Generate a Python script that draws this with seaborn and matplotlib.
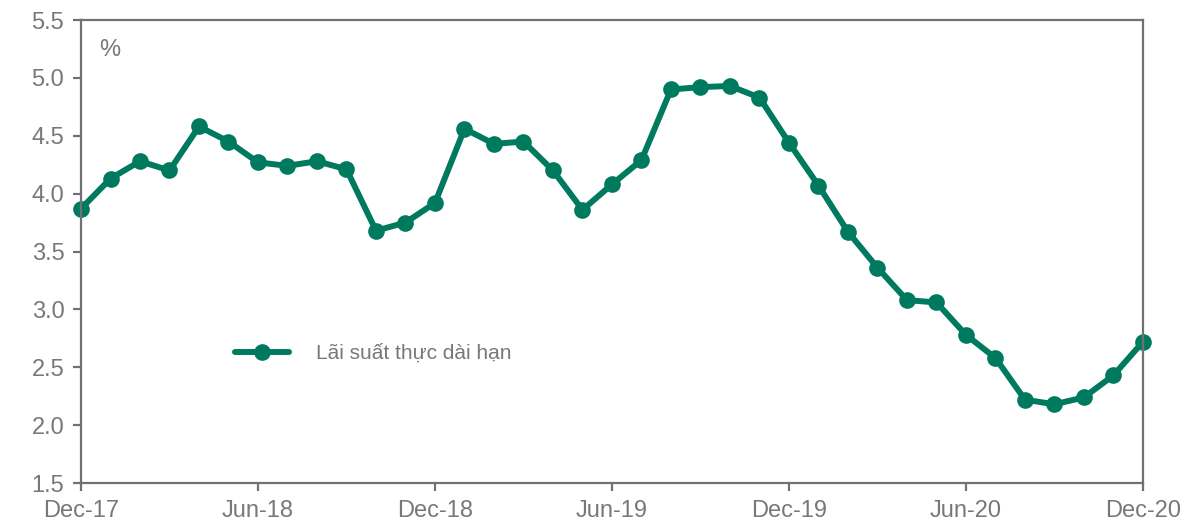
import matplotlib
matplotlib.use("Agg")
import matplotlib.pyplot as plt
import seaborn as sns
import pandas as pd

months = ["Dec-17","Jan-18","Feb-18","Mar-18","Apr-18","May-18","Jun-18","Jul-18","Aug-18","Sep-18","Oct-18","Nov-18",
          "Dec-18","Jan-19","Feb-19","Mar-19","Apr-19","May-19","Jun-19","Jul-19","Aug-19","Sep-19","Oct-19","Nov-19",
          "Dec-19","Jan-20","Feb-20","Mar-20","Apr-20","May-20","Jun-20","Jul-20","Aug-20","Sep-20","Oct-20","Nov-20","Dec-20"]
values = [3.87, 4.13, 4.28, 4.20, 4.58, 4.45, 4.27, 4.24, 4.28, 4.21, 3.68, 3.75,
          3.92, 4.56, 4.43, 4.45, 4.20, 3.86, 4.08, 4.29, 4.90, 4.92, 4.93, 4.83,
          4.44, 4.07, 3.67, 3.36, 3.08, 3.06, 2.78, 2.58, 2.22, 2.18, 2.24, 2.43, 2.72]
tick_labels = ["Dec-17","Jun-18","Dec-18","Jun-19","Dec-19","Jun-20","Dec-20"]
series_name = "Lãi suất thực dài hạn"

sns.set_theme(style="white")
plt.rcParams['font.family'] = ['Liberation Sans', 'DejaVu Sans']

df = pd.DataFrame({"idx": range(len(months)), "value": values, "series": series_name})

fig = plt.figure(figsize=(11.86, 5.21), dpi=100)
ax = fig.add_axes([0.0683, 0.0729, 0.8954, 0.8887])
green = "#007A5E"
gray = "#6E7276"
sns.lineplot(data=df, x="idx", y="value", hue="series", palette=[green], ax=ax,
             linewidth=4.3, marker="o", markersize=12, markeredgewidth=0, legend=True)
for ln in ax.lines:
    ln.set_clip_on(False)

ax.set_xlim(0, 36)
ax.set_ylim(1.5, 5.5)
ax.set_yticks([1.5, 2.0, 2.5, 3.0, 3.5, 4.0, 4.5, 5.0, 5.5])
ax.set_yticklabels([f"{v:.1f}" for v in [1.5, 2.0, 2.5, 3.0, 3.5, 4.0, 4.5, 5.0, 5.5]])
ax.set_xticks(list(range(0, 37, 6)))
ax.set_xticklabels(tick_labels)
ax.set_xlabel("")
ax.set_ylabel("")
for s in ax.spines.values():
    s.set_color(gray)
    s.set_linewidth(1.6)
ax.tick_params(axis="both", colors=gray, labelcolor="#76787B", labelsize=17,
               length=6, width=1.6, direction="out", left=True, bottom=True)
ax.tick_params(axis="x", pad=6)
ax.tick_params(axis="y", pad=6)

ax.text(0.017, 0.935, "%", transform=ax.transAxes, fontsize=17, color="#76787B", ha="left", va="center")

leg = ax.legend(loc="center left", bbox_to_anchor=(0.127, 0.28), frameon=False,
                fontsize=15, handlelength=2.6, handletextpad=1.3)
for t in leg.get_texts():
    t.set_color("#76787B")

fig.savefig("out.png", dpi=100)
